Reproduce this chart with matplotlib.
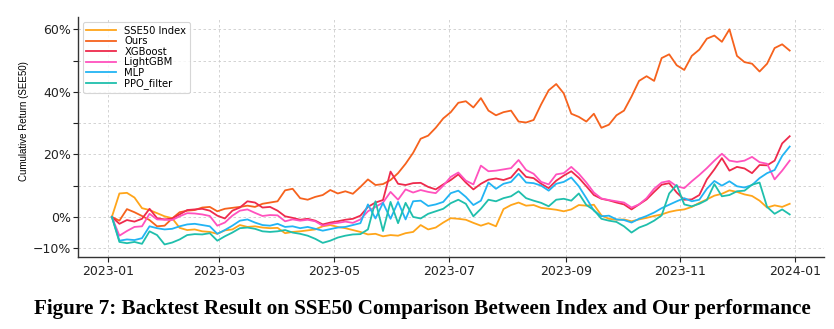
import matplotlib
matplotlib.use("Agg")
import matplotlib.pyplot as plt
import matplotlib.dates as mdates
import numpy as np
import pandas as pd

# Sampling dates (every 4 calendar days across the 2023 backtest window)
dates = pd.date_range("2023-01-03", periods=91, freq="4D")

# Cumulative returns in percent
sse50 = [
    0.0, 7.5, 7.7, 6.2, 2.8, 2.2, 1.2, 0.2, -0.4, -3.5,
    -4.2, -4.0, -4.6, -4.8, -5.4, -4.3, -4.0, -2.6, -3.2, -3.0,
    -3.4, -3.6, -3.5, -5.2, -4.8, -4.6, -4.3, -4.0, -3.0, -2.6,
    -3.2, -3.6, -4.2, -4.8, -5.6, -5.4, -6.2, -5.8, -6.0, -5.2,
    -4.8, -2.6, -4.0, -3.4, -1.8, -0.4, -0.6, -0.9, -1.9, -2.8,
    -2.0, -3.0, 2.5, 3.8, 4.6, 3.6, 3.8, 2.9, 2.6, 2.3,
    1.8, 2.4, 3.8, 3.6, 3.9, 0.5, -0.6, -0.9, -0.8, -1.4,
    -0.8, -0.3, 0.3, 0.8, 1.6, 2.1, 2.4, 3.2, 4.5, 5.6,
    6.8, 7.4, 8.5, 8.0, 7.2, 6.7, 5.2, 3.0, 3.7, 3.2,
    4.2]
ours = [
    0.0, -1.2, 2.5, 1.5, 0.3, -1.0, -3.0, -2.8, -0.5, 1.5,
    2.0, 2.2, 3.0, 3.2, 1.8, 2.6, 2.9, 3.2, 3.6, 3.2,
    4.2, 4.6, 5.0, 8.5, 9.0, 6.0, 5.5, 6.4, 7.0, 8.6,
    7.5, 8.2, 7.4, 9.6, 12.0, 10.2, 10.5, 11.8, 14.0, 17.0,
    20.5, 25.0, 26.0, 28.5, 31.5, 33.5, 36.5, 37.0, 35.0, 38.0,
    34.0, 32.5, 33.5, 34.0, 30.5, 30.2, 31.0, 36.0, 40.5, 42.5,
    39.5, 33.0, 32.0, 30.5, 33.0, 28.5, 29.5, 32.5, 34.0, 38.5,
    43.5, 45.0, 43.5, 50.8, 52.0, 48.5, 47.0, 51.5, 53.5, 57.0,
    58.0, 56.0, 60.0, 51.5, 49.5, 49.0, 46.5, 49.0, 54.0, 55.2,
    53.2]
xgboost = [
    0.0, -2.2, -1.0, -1.5, -0.6, 2.6, -0.4, -0.8, -0.5, 0.8,
    2.2, 2.4, 2.6, 2.0, 0.4, -0.5, 2.0, 3.0, 5.0, 4.6,
    3.0, 3.2, 2.0, 0.2, -0.3, -0.9, -0.6, -1.2, -2.4, -1.8,
    -1.4, -0.9, -0.6, 0.4, 3.2, 4.6, 5.4, 14.5, 10.6, 10.2,
    10.8, 10.9, 9.6, 8.8, 10.4, 11.8, 13.6, 11.0, 8.8, 10.6,
    11.9, 12.3, 11.8, 12.6, 15.4, 12.8, 12.4, 10.6, 9.2, 11.6,
    13.2, 14.6, 12.5, 9.8, 7.0, 5.8, 5.3, 4.6, 4.0, 2.4,
    4.0, 5.6, 8.0, 10.3, 10.8, 7.8, 5.5, 5.6, 7.0, 12.0,
    15.2, 18.8, 14.8, 16.0, 15.5, 14.0, 16.6, 16.5, 18.0, 23.5,
    25.8]
lightgbm = [
    0.0, -6.0, -4.5, -3.2, -3.0, 1.0, -0.8, -0.9, -1.0, 0.2,
    1.2, 1.1, 0.8, 0.3, -2.8, -1.8, 0.4, 2.0, 2.4, 1.3,
    0.3, 0.6, 0.5, -1.4, -0.8, -1.2, -0.9, -1.4, -2.8, -2.2,
    -1.9, -1.5, -1.9, -0.8, 1.8, 3.2, 4.6, 8.0, 5.5, 8.8,
    7.8, 8.6, 8.0, 7.6, 10.0, 12.8, 14.2, 11.6, 10.4, 16.4,
    14.6, 14.8, 15.2, 15.6, 18.2, 15.0, 13.8, 11.2, 10.4, 13.6,
    14.0, 16.0, 13.8, 11.0, 7.8, 5.9, 5.4, 5.0, 4.6, 3.0,
    4.0, 6.0, 9.0, 11.0, 11.5, 9.8, 9.2, 11.4, 13.4, 15.6,
    18.0, 20.2, 18.0, 17.6, 18.0, 19.2, 17.5, 17.0, 12.0, 14.8,
    18.0]
mlp = [
    0.0, -7.6, -7.2, -7.4, -6.8, -3.0, -3.6, -4.0, -3.8, -3.0,
    -2.4, -2.2, -2.6, -3.0, -5.4, -4.2, -2.8, -1.2, -0.8, -1.8,
    -2.6, -2.8, -2.2, -3.2, -3.0, -3.6, -3.2, -3.8, -4.4, -3.9,
    -3.4, -3.2, -2.6, -2.0, 4.0, -0.5, 4.5, -0.6, 4.8, -0.8,
    5.0, 5.2, 3.5, 4.0, 4.8, 7.6, 8.4, 6.4, 3.8, 5.2,
    11.0, 9.0, 10.6, 11.2, 13.8, 11.0, 10.8, 10.0, 8.4, 10.6,
    11.2, 12.6, 9.8, 6.0, 2.0, 0.2, 0.4, -0.8, -1.0, -1.8,
    -0.6, 0.3, 1.4, 2.8, 3.9, 5.0, 6.0, 5.0, 5.5, 9.0,
    11.5, 10.0, 11.4, 9.8, 9.4, 10.2, 12.4, 14.0, 15.0, 19.5,
    22.5]
ppo_filter = [
    0.0, -8.0, -8.4, -8.0, -8.6, -4.6, -5.8, -8.8, -8.2, -7.2,
    -5.8, -5.5, -5.6, -5.2, -7.6, -6.2, -5.0, -3.6, -3.4, -3.8,
    -4.6, -4.8, -4.6, -4.2, -5.0, -5.4, -6.0, -7.0, -8.3, -7.6,
    -6.6, -6.0, -5.6, -5.5, -4.0, 5.0, -4.5, 4.8, -2.0, 4.5,
    0.0, -0.5, 1.0, 1.8, 2.6, 4.4, 5.5, 4.2, 0.2, 2.6,
    5.5, 5.0, 6.0, 6.6, 8.2, 6.0, 5.2, 4.5, 3.4, 5.5,
    5.8, 5.2, 7.5, 3.8, 2.2, -0.6, -1.2, -1.6, -3.0, -5.0,
    -3.4, -2.5, -1.2, 0.5, 7.5, 10.2, 4.0, 3.4, 4.2, 5.4,
    10.5, 6.6, 7.0, 8.2, 8.4, 10.3, 11.0, 3.2, 1.0, 2.4,
    0.8]

series_names = ["SSE50 Index", "Ours", "XGBoost", "LightGBM", "MLP", "PPO_filter"]
series_values = [sse50, ours, xgboost, lightgbm, mlp, ppo_filter]
series_colors = ["#FFA51A", "#F6621D", "#EE2A4C", "#FF52BE", "#22B4F3", "#1FBFAC"]

y_ticks = [-10, 0, 10, 20, 30, 40, 50, 60]
y_tick_labels = ["\u221210%", "0%", "", "20%", "", "40%", "", "60%"]

caption = "Figure 7: Backtest Result on SSE50 Comparison Between Index and Our performance"

fig = plt.figure(figsize=(8.34, 3.29), dpi=100)
ax = fig.add_axes([0.0935, 0.219, 0.894, 0.729])

for name, vals, col in zip(series_names, series_values, series_colors):
    ax.plot(dates, vals, color=col, lw=1.3, label=name)

ax.set_ylim(-12.8, 63.9)
ax.set_yticks(y_ticks)
ax.set_yticklabels(y_tick_labels)
ax.xaxis.set_major_locator(mdates.MonthLocator(bymonth=[1, 3, 5, 7, 9, 11]))
ax.xaxis.set_major_formatter(mdates.DateFormatter("%Y-%m"))

ax.grid(True, color="#cccccc", linestyle=(0, (3, 3)), linewidth=0.6)
for s in ["top", "right"]:
    ax.spines[s].set_visible(False)
for s in ["left", "bottom"]:
    ax.spines[s].set_color("#333333")
    ax.spines[s].set_linewidth(1.0)
ax.tick_params(axis="both", labelsize=9, colors="#222222", length=3.5, width=0.8)
ax.tick_params(axis="y", pad=1.5)
ax.tick_params(axis="x", pad=2)

ax.set_ylabel("Cumulative Return (SEE50)", fontsize=7, family="Liberation Sans")
ax.yaxis.set_label_coords(-0.066, 0.567)

leg = ax.legend(loc="upper left", fontsize=7.2, handlelength=3.0, labelspacing=0.05,
                frameon=True, borderpad=0.35, bbox_to_anchor=(0.0, 1.0))
leg.get_frame().set_edgecolor("#cccccc")
leg.get_frame().set_linewidth(0.8)

fig.text(0.5066, 0.06, caption, ha="center", va="center", fontsize=15.2,
         fontweight="bold", family="Liberation Serif")

fig.savefig("out.png", dpi=100)
